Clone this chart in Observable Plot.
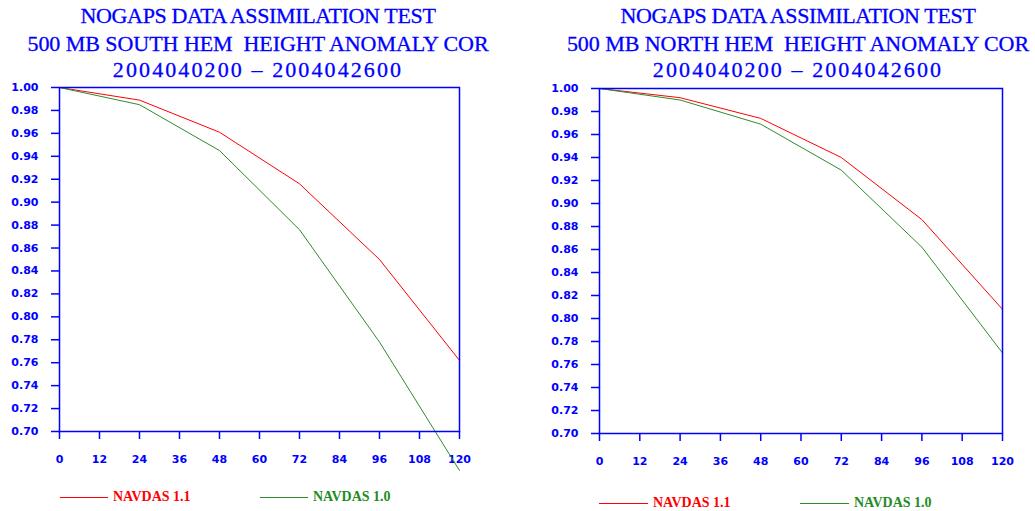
<!DOCTYPE html>
<html><head><meta charset="utf-8">
<script src="https://cdn.jsdelivr.net/npm/d3@7"></script>
<script src="https://cdn.jsdelivr.net/npm/@observablehq/plot@0.6"></script>
<style>
body{margin:0;background:#fff;}
#root{position:relative;width:1035px;height:511px;overflow:hidden;background:#fff;}
.panel{position:absolute;top:0;height:511px;overflow:hidden;}
.t{position:absolute;width:700px;text-align:center;font-family:"Liberation Serif",serif;color:#0000ff;white-space:pre;font-size:22px;line-height:22px;-webkit-text-stroke:0.3px #0000ff;}
.leg{position:absolute;height:14px;display:flex;align-items:center;font-family:"Liberation Serif",serif;font-weight:bold;font-size:14px;line-height:14px;white-space:pre;}
.leg i{display:block;height:1px;margin-right:5px;}
</style></head>
<body><div id="root"></div>
<script>
const leadHours = [0, 24, 48, 72, 96, 120];
const xTicks = [0, 12, 24, 36, 48, 60, 72, 84, 96, 108, 120];
const yTicks = [0.70, 0.72, 0.74, 0.76, 0.78, 0.80, 0.82, 0.84, 0.86, 0.88, 0.90, 0.92, 0.94, 0.96, 0.98, 1.00];
const seriesNames = ["NAVDAS 1.1", "NAVDAS 1.0"];
const seriesColors = ["#ff0000", "#2e8b2e"];
const southNavdas11 = [1.000, 0.989, 0.961, 0.916, 0.850, 0.762];
const southNavdas10 = [1.000, 0.985, 0.945, 0.876, 0.778, 0.666];
const northNavdas11 = [1.000, 0.992, 0.974, 0.940, 0.886, 0.808];
const northNavdas10 = [1.000, 0.990, 0.969, 0.929, 0.862, 0.770];
const titleLine1 = "NOGAPS DATA ASSIMILATION TEST";
const titleSouth = "500 MB SOUTH HEM  HEIGHT ANOMALY COR";
const titleNorth = "500 MB NORTH HEM  HEIGHT ANOMALY COR";
const titleLine3 = "2004040200 \u2013 2004042600";

const root = document.getElementById("root");

function rows(values, name) {
  return leadHours.map((h, i) => ({h, v: values[i], s: name}));
}

function makePanel(cfg) {
  const panel = document.createElement("div");
  panel.className = "panel";
  panel.style.left = cfg.left + "px";
  panel.style.width = cfg.width + "px";
  root.appendChild(panel);

  const data = [...rows(cfg.s11, seriesNames[0]), ...rows(cfg.s10, seriesNames[1])];
  const chart = Plot.plot({
    width: cfg.width,
    height: 511,
    marginLeft: cfg.ml,
    marginRight: cfg.mr,
    marginTop: cfg.mt,
    marginBottom: cfg.mb,
    style: {fontFamily: "'DejaVu Sans', Verdana, sans-serif", fontSize: "11px", fontWeight: "bold", background: "transparent", overflow: "visible"},
    x: {domain: [0, 120], axis: null},
    y: {domain: [0.70, 1.00], axis: null},
    color: {domain: seriesNames, range: seriesColors},
    marks: [
      Plot.axisX({ticks: xTicks, tickSize: 8, tickPadding: 16, stroke: "#0000ff", fill: "#0000ff", strokeWidth: 1.5, label: null, tickFormat: d => String(d)}),
      Plot.axisY({ticks: yTicks, tickSize: 8, tickPadding: 13, stroke: "#0000ff", fill: "#0000ff", strokeWidth: 1.5, label: null, tickFormat: d3.format(".2f")}),
      Plot.line(data, {x: "h", y: "v", z: "s", stroke: "s", strokeWidth: 1}),
      Plot.frame({stroke: "#0000ff", strokeWidth: 1.5})
    ]
  });
  chart.style.position = "absolute";
  chart.style.left = "0px";
  chart.style.top = "0px";
  panel.appendChild(chart);

  const lines = [
    {text: titleLine1, top: 4.6, ls: "-0.35px"},
    {text: cfg.title2, top: 33.4, ls: "-0.05px"},
    {text: titleLine3, top: 59.4, ls: "2.1px"}
  ];
  for (const l of lines) {
    const d = document.createElement("div");
    d.className = "t";
    d.textContent = l.text;
    d.style.top = l.top + "px";
    d.style.left = (cfg.center - cfg.left - 350) + "px";
    d.style.letterSpacing = l.ls;
    panel.appendChild(d);
  }
  cfg.legend.forEach((lg, i) => {
    const d = document.createElement("div");
    d.className = "leg";
    d.style.left = (lg.x - cfg.left) + "px";
    d.style.top = (cfg.legY - 7) + "px";
    d.style.color = i === 0 ? "#ff0000" : "#228b22";
    const line = document.createElement("i");
    line.style.width = lg.w + "px";
    line.style.background = seriesColors[i];
    d.appendChild(line);
    const sp = document.createElement("span");
    sp.textContent = seriesNames[i];
    d.appendChild(sp);
    panel.appendChild(d);
  });
}

makePanel({left: 0, width: 490, ml: 59, mr: 31, mt: 87, mb: 80, center: 258,
  s11: southNavdas11, s10: southNavdas10, title2: titleSouth, legY: 497,
  legend: [{x: 60, w: 48}, {x: 260, w: 48}]});
makePanel({left: 540, width: 495, ml: 59, mr: 33, mt: 88, mb: 78, center: 798,
  s11: northNavdas11, s10: northNavdas10, title2: titleNorth, legY: 503,
  legend: [{x: 599, w: 49}, {x: 800, w: 49}]});
</script>
</body></html>
